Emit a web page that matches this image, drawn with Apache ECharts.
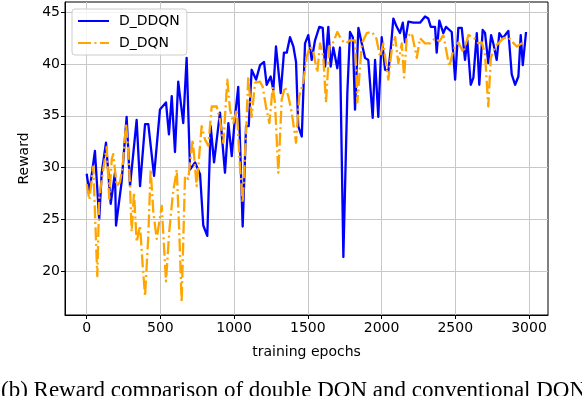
<!DOCTYPE html>
<html>
<head>
<meta charset="utf-8">
<script src="https://cdn.jsdelivr.net/npm/echarts@6/dist/echarts.min.js"></script>
<style>
html,body{margin:0;padding:0;background:#fff;}
#chart{width:582px;height:396px;}
</style>
</head>
<body>
<div id="chart"></div>
<script>
// ---- data ----
const seriesNames = ['D_DDQN', 'D_DQN'];
const xTicks = [0, 500, 1000, 1500, 2000, 2500, 3000];
const yTicks = [20, 25, 30, 35, 40, 45];

const ddqnEpochs = [0,18,56,85,102,131,163,192,199,237,271,294,339,362,396,418,457,497,538,558,577,599,621,655,678,701,735,769,791,818,841,864,904,938,961,984,1006,1028,1058,1081,1099,1119,1149,1176,1203,1221,1248,1266,1284,1316,1338,1357,1379,1402,1420,1435,1459,1481,1503,1526,1549,1578,1601,1617,1639,1655,1673,1700,1718,1741,1768,1786,1805,1820,1843,1866,1888,1910,1940,1956,1978,2001,2024,2046,2062,2080,2103,2125,2144,2159,2182,2216,2261,2295,2317,2334,2363,2374,2392,2419,2437,2476,2499,2521,2544,2566,2582,2605,2623,2646,2663,2686,2702,2724,2743,2758,2781,2799,2822,2849,2860,2883,2906,2928,2944,2958,2980];
const ddqnReward = [29.4,27.6,31.6,25.0,29.5,32.4,26.5,29.5,24.4,28.6,34.9,28.2,34.6,28.2,34.2,34.2,29.2,35.6,36.3,33.2,36.9,31.5,38.3,34.3,40.6,29.8,30.5,29.35,24.4,23.4,34.0,30.5,35.3,29.5,34.3,31.1,34.9,37.8,24.3,34.0,34.0,39.45,38.5,39.9,40.2,38.0,38.8,37.5,41.7,37.2,41.1,41.1,42.6,41.7,40.2,34.0,33.0,42.0,42.8,40.4,42.3,43.6,43.5,39.75,43.6,39.75,41.6,39.6,41.6,21.35,37.2,43.1,42.6,35.6,43.5,42.0,40.6,40.4,34.8,40.4,34.9,42.6,39.45,39.3,41.4,44.4,43.6,43.0,44.0,42.1,44.1,44.0,44.0,44.6,44.4,43.6,43.6,41.1,44.2,43.0,43.6,43.1,38.5,43.5,43.5,40.4,42.3,38.0,38.7,43.0,38.0,43.3,43.0,40.1,42.8,42.0,40.4,43.0,42.5,43.0,43.2,39.0,38.0,38.8,42.8,39.9,43.1];

const dqnEpochs = [0,18,45,72,85,109,136,153,170,180,204,226,244,267,282,294,305,321,339,362,380,396,418,434,452,475,509,538,560,585,611,628,644,667,689,719,746,780,803,825,848,882,904,927,954,972,995,1018,1040,1058,1081,1096,1119,1142,1176,1194,1216,1239,1262,1277,1300,1323,1345,1368,1391,1420,1442,1469,1492,1515,1537,1564,1583,1605,1623,1646,1669,1700,1730,1759,1786,1820,1836,1866,1900,1933,1963,1990,2012,2030,2046,2069,2092,2114,2137,2153,2171,2205,2239,2261,2295,2329,2363,2392,2419,2460,2487,2521,2555,2589,2623,2657,2680,2702,2724,2741,2770,2799,2826,2860,2890,2917,2951,2980];
const dqnReward = [28.4,26.9,30.1,19.5,27.0,29.5,32.0,27.0,30.8,31.3,28.2,28.6,30.1,34.3,31.5,28.2,23.8,27.6,22.8,24.4,20.5,17.6,23.4,29.8,25.7,23.1,26.3,19.0,23.8,27.5,29.8,23.8,17.0,29.2,28.9,32.7,28.2,34.0,32.7,32.1,35.9,35.9,34.6,32.4,38.5,35.6,34.3,35.6,30.1,26.6,33.4,38.8,34.9,38.2,38.3,37.8,35.9,34.3,37.8,36.3,29.5,36.6,37.8,36.9,35.3,32.4,36.9,38.2,40.7,41.7,41.2,39.2,42.0,40.7,36.3,41.7,42.0,43.1,42.3,42.0,42.3,42.3,36.3,42.0,43.0,43.1,42.6,40.7,42.0,40.1,38.5,41.4,42.6,40.1,42.0,38.7,42.6,43.0,40.6,42.5,42.0,42.0,42.5,42.2,42.8,39.75,41.4,42.1,41.1,42.8,42.6,42.0,42.1,40.9,35.9,40.6,41.7,42.1,42.5,42.6,42.1,41.7,42.0,42.0];

const xLabel = 'training epochs';
const yLabel = 'Reward';
const caption = '(b) Reward comparison of double DQN and conventional DQN';

// ---- chart ----
const pairs = (xs, ys) => xs.map((x, i) => [x, ys[i]]);
const chart = echarts.init(document.getElementById('chart'), null, {renderer: 'canvas'});
const font = 'DejaVu Sans';
const plain = v => String(v);

chart.setOption({
  animation: false,
  backgroundColor: '#ffffff',
  grid: {
    left: 65, right: 34, top: 2, bottom: 81,
    show: true, borderColor: '#000', borderWidth: 1, backgroundColor: 'transparent'
  },
  legend: {
    left: 72, top: 9,
    orient: 'vertical',
    itemWidth: 31, itemHeight: 14, itemGap: 8,
    padding: [5, 7, 5, 5],
    backgroundColor: 'rgba(255,255,255,0.8)',
    borderColor: '#cccccc', borderWidth: 1, borderRadius: 3,
    itemStyle: {opacity: 0},
    textStyle: {fontFamily: font, fontSize: 14, color: '#000', padding: [0, 0, 0, 5]},
    data: seriesNames
  },
  xAxis: {
    type: 'value', min: -147, max: 3129,
    name: xLabel, nameLocation: 'middle', nameGap: 30,
    nameTextStyle: {fontFamily: font, fontSize: 14, color: '#000'},
    axisLine: {show: true, onZero: false, lineStyle: {color: '#000', width: 1}},
    axisTick: {show: true, length: 4, customValues: xTicks, lineStyle: {color: '#000'}},
    axisLabel: {customValues: xTicks, formatter: plain, fontFamily: font, fontSize: 14, color: '#000', margin: 6},
    splitLine: {show: true, lineStyle: {color: '#c8c8c8', width: 1}}
  },
  yAxis: {
    type: 'value', min: 15.75, max: 46.0,
    name: yLabel, nameLocation: 'middle', nameGap: 30, nameRotate: 90,
    nameTextStyle: {fontFamily: font, fontSize: 14, color: '#000'},
    axisLine: {show: true, onZero: false, lineStyle: {color: '#000', width: 1}},
    axisTick: {show: true, length: 4, customValues: yTicks, lineStyle: {color: '#000'}},
    axisLabel: {customValues: yTicks, formatter: plain, fontFamily: font, fontSize: 14, color: '#000', margin: 5},
    splitLine: {show: true, lineStyle: {color: '#c8c8c8', width: 1}}
  },
  series: [
    {
      name: seriesNames[0], type: 'line', symbol: 'none', showSymbol: false, smooth: false,
      data: pairs(ddqnEpochs, ddqnReward),
      lineStyle: {color: '#0000ff', width: 2.3, join: 'round'},
      itemStyle: {color: '#0000ff'}
    },
    {
      name: seriesNames[1], type: 'line', symbol: 'none', showSymbol: false, smooth: false,
      data: pairs(dqnEpochs, dqnReward),
      lineStyle: {color: '#ffa500', width: 2.3, type: [13, 3.5, 2, 3.5], join: 'round'},
      itemStyle: {color: '#ffa500'}
    }
  ],
  graphic: [{
    type: 'text', left: 1, top: 379, silent: true,
    style: {text: caption, font: '23px "Liberation Serif"', fill: '#000'}
  }]
});
</script>
</body>
</html>
